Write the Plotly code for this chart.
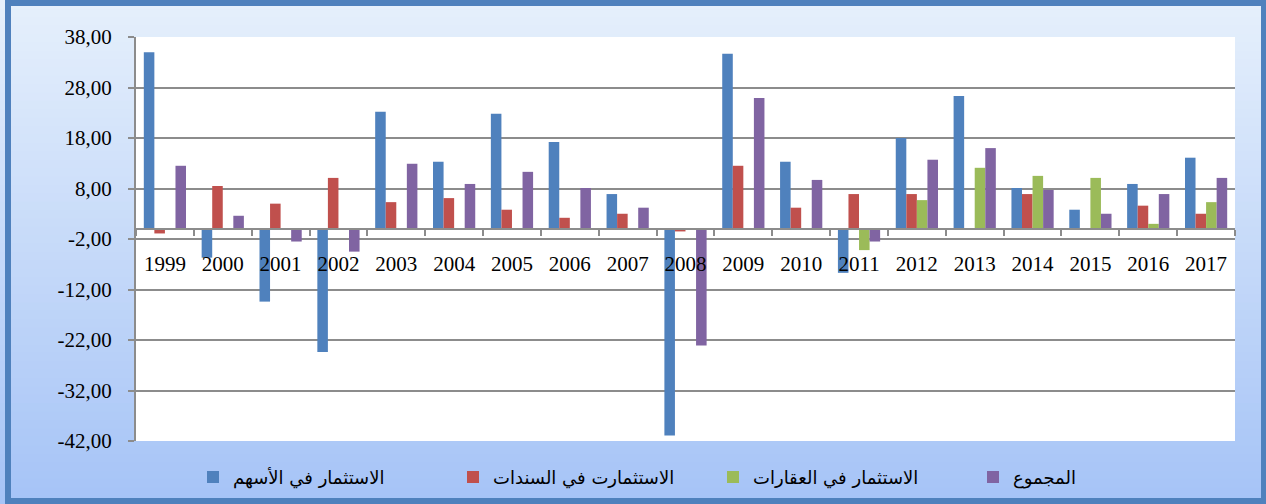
import plotly.graph_objects as go

years = [str(y) for y in range(1999, 2018)]

# الاستثمار في الأسهم
stocks = [35.0, -5.7, -14.4, -24.4, 23.2, 13.3, 22.8, 17.2, 6.9, -40.9,
          34.7, 13.3, -8.7, 18.0, 26.3, 8.1, 3.8, 8.9, 14.1]
# الاستثمارت في السندات
bonds = [-0.9, 8.5, 5.0, 10.1, 5.3, 6.1, 3.8, 2.2, 3.0, -0.5,
         12.5, 4.2, 6.9, 6.9, None, 6.9, None, 4.6, 3.0]
# الاستثمار في العقارات
real_estate = [None, None, None, None, None, None, None, None, None, None,
               None, None, -4.2, 5.7, 12.1, 10.5, 10.1, 1.0, 5.3]
# المجموع
total = [12.5, 2.6, -2.5, -4.5, 12.9, 8.9, 11.3, 8.1, 4.2, -23.1,
         25.9, 9.7, -2.5, 13.7, 16.0, 7.7, 3.0, 6.9, 10.1]

y_ticks = [38, 28, 18, 8, -2, -12, -22, -32, -42]
y_tick_text = ["38,00", "28,00", "18,00", "8,00", "-2,00",
               "-12,00", "-22,00", "-32,00", "-42,00"]

series = [
    ("الاستثمار في الأسهم", stocks, "#4F81BD"),
    ("الاستثمارت في السندات", bonds, "#C0504D"),
    ("الاستثمار في العقارات", real_estate, "#9BBB59"),
    ("المجموع", total, "#8064A2"),
]

W, H = 1266, 504
ML, MR, MT, MB = 136, 31, 37, 63
pw, ph = W - ML - MR, H - MT - MB

fig = go.Figure()
for name, vals, col in series:
    fig.add_trace(go.Bar(x=years, y=vals, name=name, marker_color=col,
                         marker_line_width=0))


def px_x(p):
    return (p - ML) / pw


def px_y(p):
    return (H - MB - p) / ph


# gradient background built from thin strips
shapes = []
n = 60
top_c = (0xE6, 0xF0, 0xFC)
bot_c = (0xA6, 0xC4, 0xF7)
for i in range(n):
    t = i / (n - 1)
    c = tuple(int(top_c[k] + (bot_c[k] - top_c[k]) * t) for k in range(3))
    y0 = i * H / n
    y1 = (i + 1) * H / n + 1
    shapes.append(dict(type="rect", xref="paper", yref="paper", layer="below",
                       x0=px_x(0), x1=px_x(W), y0=px_y(y1), y1=px_y(y0),
                       fillcolor="rgb(%d,%d,%d)" % c, line_width=0))
# white plot area
shapes.append(dict(type="rect", xref="paper", yref="paper", layer="below",
                   x0=0, x1=1, y0=0, y1=1, fillcolor="white", line_width=0))
# outer frame
shapes.append(dict(type="rect", xref="paper", yref="paper", layer="above",
                   x0=px_x(8), x1=px_x(1264), y0=px_y(501), y1=px_y(3),
                   line=dict(color="#4F81BD", width=6), fillcolor="rgba(0,0,0,0)"))

fig.update_layout(
    width=W, height=H,
    margin=dict(l=ML, r=MR, t=MT, b=MB, pad=0, autoexpand=False),
    barmode="group", bargap=0.27, bargroupgap=0,
    paper_bgcolor="#C5D9F8", plot_bgcolor="white",
    font=dict(family="Liberation Serif, DejaVu Serif", size=20, color="black"),
    shapes=shapes,
    showlegend=True,
    legend=dict(orientation="h", x=px_x(193), xanchor="left", y=-0.09, yanchor="middle",
                font=dict(family="DejaVu Sans", size=18, color="black"),
                bgcolor="rgba(0,0,0,0)", itemwidth=30, entrywidth=215,
                traceorder="normal"),
)
fig.update_xaxes(
    type="category", anchor="free", position=42 / 80,
    showline=True, linecolor="#8C8C8C", linewidth=2,
    ticks="outside", tickson="boundaries", ticklen=6, tickcolor="#8C8C8C", tickwidth=2,
    showgrid=False, ticklabelstandoff=16,
    tickfont=dict(family="Liberation Serif", size=21),
)
fig.update_yaxes(
    range=[-42, 38], tickvals=y_ticks, ticktext=y_tick_text,
    showline=True, linecolor="#8C8C8C", linewidth=2,
    ticks="outside", ticklen=6, tickcolor="#8C8C8C", tickwidth=2,
    showgrid=True, gridcolor="#8C8C8C", gridwidth=2, zeroline=False,
    ticklabelstandoff=12,
    tickfont=dict(family="Liberation Serif", size=21),
)

fig.write_html("out.html", config={"displayModeBar": False},
               post_script="document.body.style.margin='0';")
